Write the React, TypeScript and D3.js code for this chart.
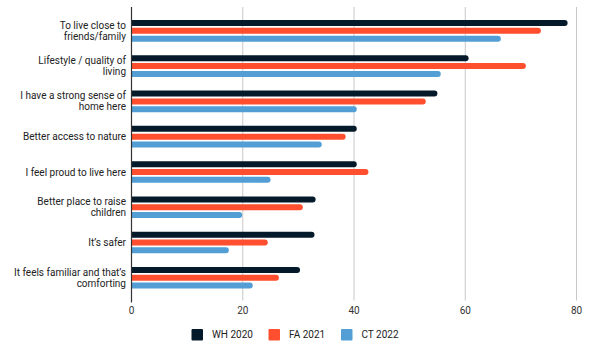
import { useRef, useEffect } from "react";
import * as d3 from "d3";

const categories = [
  ["To live close to", "friends/family"],
  ["Lifestyle / quality of", "living"],
  ["I have a strong sense of", "home here"],
  ["Better access to nature"],
  ["I feel proud to live here"],
  ["Better place to raise", "children"],
  ["It’s safer"],
  ["It feels familiar and that’s", "comforting"],
];
const seriesNames = ["WH 2020", "FA 2021", "CT 2022"];
const wh2020 = [78.4, 60.6, 55.0, 40.5, 40.5, 33.1, 32.9, 30.3];
const fa2021 = [73.6, 70.9, 52.9, 38.5, 42.6, 30.8, 24.5, 26.5];
const ct2022 = [66.4, 55.6, 40.5, 34.2, 25.0, 19.9, 17.5, 21.8];
const colors = ["#041a2a", "#ff4f2e", "#539fd5"];
const xTicks = [0, 20, 40, 60, 80];

const FONT = "Roboto, 'Noto Sans', sans-serif";
const W = 592;
const H = 350;

export default function App() {
  const svgRef = useRef<SVGSVGElement>(null);

  useEffect(() => {
    if (!svgRef.current) return;
    const svg = d3.select(svgRef.current);
    svg.selectAll("*").remove();

    const left = 131.5, right = 576.5, top = 7, bottom = 300.5;
    const x = d3.scaleLinear().domain([0, 80]).range([left, right]);
    const idx = categories.map((_, i) => i);
    const y = d3.scaleBand<number>().domain(idx).range([13.2, 295.4]).padding(0);
    const barH = 6;
    const offsets = [-7.8, 0, 7.8];
    const series = [wh2020, fa2021, ct2022];

    // grid
    svg.append("g")
      .selectAll("line")
      .data(xTicks.slice(1))
      .join("line")
      .attr("x1", (d) => x(d)).attr("x2", (d) => x(d))
      .attr("y1", top).attr("y2", bottom)
      .attr("stroke", "#c8c8c8").attr("stroke-width", 1);

    // bars with rounded right end
    const barPath = (x0: number, x1: number, yc: number) => {
      const r = barH / 2;
      const y0 = yc - r, y1 = yc + r;
      const xe = Math.max(x0, x1 - r);
      return `M${x0},${y0}H${xe}A${r},${r} 0 0 1 ${xe},${y1}H${x0}Z`;
    };
    series.forEach((vals, s) => {
      svg.append("g")
        .selectAll("path")
        .data(vals)
        .join("path")
        .attr("d", (d, i) => barPath(x(0), x(d), y(i)! + y.bandwidth() / 2 + offsets[s]))
        .attr("fill", colors[s]);
    });

    // zero axis
    svg.append("line")
      .attr("x1", x(0)).attr("x2", x(0))
      .attr("y1", top).attr("y2", bottom + 2)
      .attr("stroke", "#333").attr("stroke-width", 1.2);

    // x tick labels
    svg.append("g")
      .selectAll("text")
      .data(xTicks)
      .join("text")
      .attr("x", (d) => x(d)).attr("y", 314)
      .attr("text-anchor", "middle")
      .attr("font-family", FONT).attr("font-size", "10px").attr("fill", "#333")
      .text((d) => d);

    // category labels
    const lh = 11;
    const lab = svg.append("g");
    categories.forEach((lines, i) => {
      const cy = y(i)! + y.bandwidth() / 2;
      const t = lab.append("text")
        .attr("text-anchor", "end")
        .attr("font-family", FONT).attr("font-size", "10px").attr("fill", "#222");
      lines.forEach((ln, j) => {
        t.append("tspan")
          .attr("x", 126)
          .attr("y", cy + 3.6 + (j - (lines.length - 1) / 2) * lh)
          .text(ln);
      });
    });

    // legend
    const legX = [191.5, 268.5, 341];
    const leg = svg.append("g");
    seriesNames.forEach((name, s) => {
      leg.append("rect")
        .attr("x", legX[s]).attr("y", 329).attr("width", 11.5).attr("height", 11.5)
        .attr("rx", 1).attr("fill", colors[s]);
      leg.append("text")
        .attr("x", legX[s] + 20.5).attr("y", 338.3)
        .attr("font-family", FONT).attr("font-size", "10px").attr("fill", "#222")
        .text(name);
    });
  }, []);

  return (
    <svg
      ref={svgRef}
      width={W}
      height={H}
      style={{ position: "absolute", left: 0, top: 0, background: "#fff" }}
    />
  );
}
